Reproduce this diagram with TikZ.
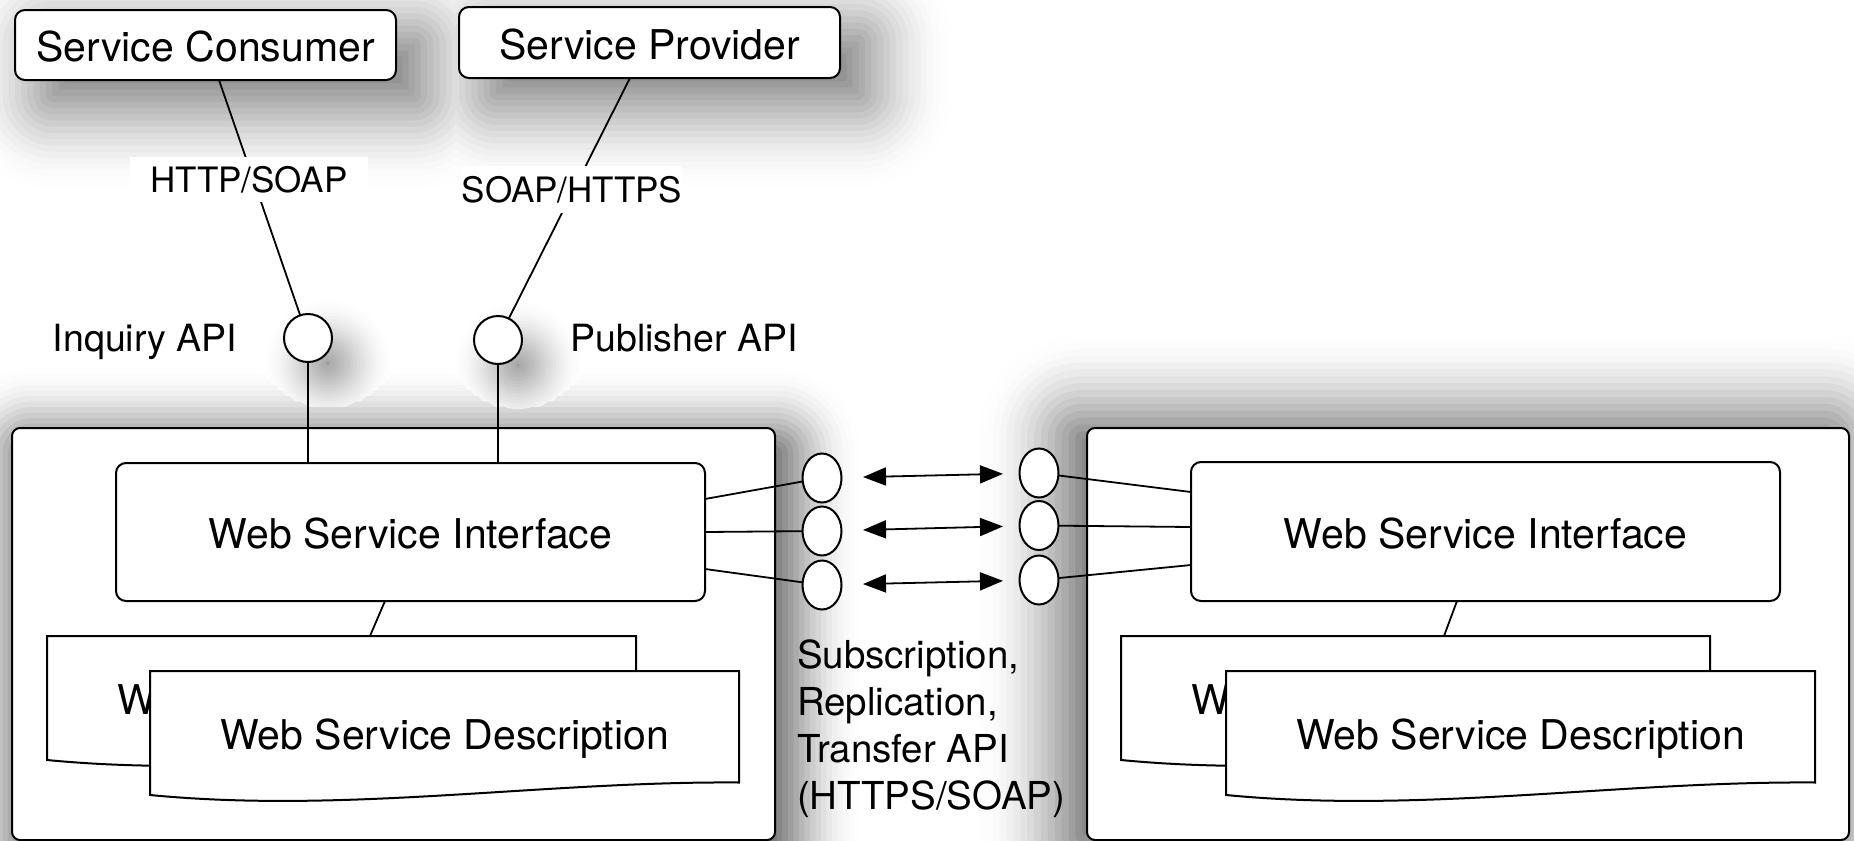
\documentclass[tikz,border=0pt]{standalone}
\usepackage{fontspec}
\setmainfont{TeX Gyre Heros}
\usetikzlibrary{shapes.geometric,arrows.meta}

% Soft drop shades, built from opaque nested layers drawn from the outside in.
% All shades are drawn level by level, so overlapping shades blend smoothly.
% Rectangles: left/top/right/bottom (px)/spread (px)/depth (percent black)
% Discs: centre x/centre y/radius/spread/depth
\newcommand\shadelevels{%
  \foreach \k in {0,...,29}{%
    \pgfmathsetmacro\shU{1-2*\k/29}%
    \pgfmathsetmacro\shF{(1-sin(90*\shU))/2}%
    \foreach \sa/\sb/\sc/\sd/\ss/\sD in
      {43/35/424/105/90/61, 487/32/868/103/90/61,
       22/443/785/855/80/90, 1072/428/1834/845/100/80}{%
      \pgfmathsetmacro\shH{min(\sc-\sa,\sd-\sb)/2-2}%
      \pgfmathsetmacro\shE{max(-1*\shH,\ss*\shU)}%
      \pgfmathsetmacro\shR{max(0.5,min(\shE+10,\shH+\shE))*0.5}%
      \pgfmathsetmacro\shG{\sD*\shF}%
      \pgfmathsetmacro\xa{\sa-1*(\shE)}\pgfmathsetmacro\ya{\sb-1*(\shE)}%
      \pgfmathsetmacro\xb{\sc+(\shE)}\pgfmathsetmacro\yb{\sd+(\shE)}%
      \fill[black!\shG,rounded corners=\shR pt] (\xa,\ya) rectangle (\xb,\yb);
    }%
    \foreach \cx/\cy/\cr/\cs/\cD in {328/363/24/45/40, 518/365/24/45/40}{%
      \pgfmathsetmacro\shRad{max(1,\cr+\cs*\shU)*0.5}%
      \pgfmathsetmacro\shG{\cD*\shF}%
      \fill[black!\shG] (\cx,\cy) circle [radius=\shRad pt];
    }%
  }%
}
% a document sheet with a wavy lower edge, and its caption node
\newcommand\sheet[4]{%
  \filldraw[fill=white,line width=1pt]
    (#2-294.5,#3-62) -- (#2+294.5,#3-62) -- (#2+294.5,#3+49.5)
    .. controls (#2+98.5,#3+48) and (#2-98.5,#3+81) .. (#2-294.5,#3+62) -- cycle;
  \node[doc] (#1) at (#2,#3) {#4};
}

\tikzset{
  every node/.style={inner sep=0pt,outer sep=0pt},
  svc/.style={draw,fill=white,rounded corners=5pt,line width=1pt,
    font=\fontsize{20.5pt}{24pt}\selectfont,text height=16.5pt,text depth=0pt},
  host/.style={draw,fill=white,rounded corners=4pt,line width=1pt},
  port/.style={draw,fill=white,circle,line width=1pt,minimum size=24pt},
  tap/.style={draw,fill=white,ellipse,line width=1pt,minimum width=19.5pt,minimum height=24.5pt},
  doc/.style={font=\fontsize{20.5pt}{24pt}\selectfont,text height=16.5pt,text depth=0pt,
    minimum width=294.5pt,minimum height=62pt},
  lbl/.style={font=\fontsize{17.5pt}{21pt}\selectfont,text height=12.5pt,text depth=0pt},
  api/.style={font=\fontsize{18.75pt}{22pt}\selectfont},
  wire/.style={line width=0.9pt},
  sync/.style={wire,{Triangle[length=11.5pt,width=9pt]}-{Triangle[length=11.5pt,width=9pt]},
    shorten <=10.75pt,shorten >=8.25pt},
}

\begin{document}
\begin{tikzpicture}[x=0.5pt,y=-0.5pt]
\useasboundingbox (0,0) rectangle (1854,841);

% shades
\begin{scope}
  \clip (0,0) rectangle (1854,841);
  \shadelevels
\end{scope}

% registry hosts
\node[host,minimum width=381.5pt,minimum height=206pt] (hostL) at (393.5,634) {};
\node[host,minimum width=381pt,minimum height=206pt] (hostR) at (1468,634) {};

% clients
\node[svc,minimum width=190.5pt,minimum height=35pt] (cons) at (205.5,45) {Service Consumer};
\node[svc,minimum width=190.5pt,minimum height=35.5pt] (prov) at (649.5,42.5) {Service Provider};

% API ports
\node[port] (inq) at (308,338) {};
\node[port] (pub) at (498,340) {};

% interfaces
\node[svc,minimum width=294.5pt,minimum height=69pt] (wsiL) at (410.5,532) {Web Service Interface};
\node[svc,minimum width=294.5pt,minimum height=69.5pt] (wsiR) at (1485.5,531.5) {Web Service Interface};

% description sheets (the rear sheet of each stack only shows its first letter)
\sheet{docBL}{341.5}{698}{\makebox[224.4pt][l]{W}}
\sheet{docFL}{444.5}{733}{Web Service Description}
\sheet{docBR}{1415.5}{698}{\makebox[224.4pt][l]{W}}
\sheet{docFR}{1520.5}{733}{Web Service Description}

% replication taps
\node[tap] (tapL1) at (822,478) {};
\node[tap] (tapL2) at (822,531) {};
\node[tap] (tapL3) at (822,585) {};
\node[tap] (tapR1) at (1039,473) {};
\node[tap] (tapR2) at (1039,525.5) {};
\node[tap] (tapR3) at (1039,580) {};

% connectors
\draw[wire] ([xshift=6.75pt]cons.south) -- (inq);
\draw[wire] ([xshift=-9.75pt]prov.south) -- (pub);
\draw[wire] (inq) -- (inq |- wsiL.north);
\draw[wire] (pub) -- (pub |- wsiL.north);
\draw[wire] ([xshift=-12.75pt]wsiL.south) -- ([xshift=14.25pt]docBL.north);
\draw[wire] ([xshift=-14.25pt]wsiR.south) -- ([xshift=14.25pt]docBR.north);

\draw[wire] ([yshift=16.5pt]wsiL.east) -- (tapL1);
\draw[wire] (wsiL.east) -- (tapL2);
\draw[wire] ([yshift=-18.5pt]wsiL.east) -- (tapL3);
\draw[wire] (tapR1) -- ([yshift=19.75pt]wsiR.west);
\draw[wire] (tapR2) -- ([yshift=2.25pt]wsiR.west);
\draw[wire] (tapR3) -- ([yshift=-16.75pt]wsiR.west);

\draw[sync] (tapL1) -- (tapR1);
\draw[sync] (tapL2) -- (tapR2);
\draw[sync] (tapL3) -- (tapR3);

% labels
\node[lbl,fill=white,minimum width=119pt,minimum height=22.5pt,anchor=base] (tHttp) at (249,192) {HTTP/SOAP};
\node[lbl,fill=white,minimum height=23.5pt,anchor=base] (tHttps) at (572,202) {SOAP/HTTPS};
\node[api,anchor=base] (tInq) at (145,351) {Inquiry API};
\node[api,anchor=base] (tPub) at (684,351) {Publisher API};
\node[anchor=north west,align=left,font=\fontsize{19.25pt}{23.5pt}\selectfont] (tSync) at (797,635.1)
  {\strut Subscription,\\Replication,\\Transfer API\\(HTTPS/SOAP)};
\end{tikzpicture}
\end{document}
